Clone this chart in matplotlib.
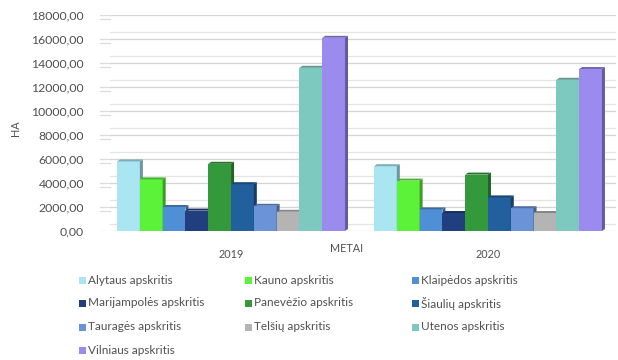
import matplotlib
matplotlib.use("Agg")
import matplotlib.pyplot as plt
from matplotlib.patches import Polygon, Rectangle
from matplotlib import transforms
import numpy as np

years = ["2019", "2020"]
regions = ["Alytaus apskritis", "Kauno apskritis", "Klaipėdos apskritis",
           "Marijampolės apskritis", "Panevėžio apskritis", "Šiaulių apskritis",
           "Tauragės apskritis", "Telšių apskritis", "Utenos apskritis",
           "Vilniaus apskritis"]
values_2019 = [5800, 4300, 2000, 1700, 5600, 3900, 2100, 1600, 13600, 16100]
values_2020 = [5400, 4200, 1800, 1500, 4700, 2800, 1900, 1500, 12600, 13500]
colors = ["#a9e6f2", "#5df23a", "#4f8fd6", "#213f7e", "#33993a",
          "#215f9d", "#6a93d8", "#b4b4b4", "#7dc9bf", "#9c8bef"]
yticks = list(range(0, 18001, 2000))

W, H = 618, 360
plt.rcParams["font.family"] = ["Lato", "DejaVu Sans"]
TXT = "#505050"

fig = plt.figure(figsize=(W / 100, H / 100), dpi=100)
fig.patch.set_facecolor("white")

def fx(px):
    return px / W

def fy(py):
    return 1 - py / H

ax = fig.add_axes([fx(100), fy(231), fx(518), (231 - 15) / H])
ax.set_xlim(-0.51, 1.506)
ax.set_ylim(0, 18000)
for s in ax.spines.values():
    s.set_visible(False)

# back-wall gridlines with a small side-wall slant on the left
wall_x = 10 / 518
bt = transforms.blended_transform_factory(ax.transAxes, ax.transData)
up = transforms.ScaledTranslation(0, 7 / 100, fig.dpi_scale_trans)
down = transforms.ScaledTranslation(0, -4 / 100, fig.dpi_scale_trans)
for v in yticks:
    ax.plot([wall_x, 0.995], [v, v], transform=bt, color="#d4d4d4", lw=0.9, zorder=0)
    ax.plot([wall_x, 0.995], [v, v], transform=bt + up, color="#e4e4e4", lw=0.9, zorder=0)
    ax.plot([0, wall_x], [v, v], transform=bt, color="#dcdcdc", lw=0.9, zorder=0)
    ax.plot([0, wall_x], [v, v], transform=bt + down, color="#dcdcdc", lw=0.9, zorder=0)

# clustered bars with a shallow 3D edge
n = len(regions)
w = 0.0887
dx, dy = 3 / 257, 2 / 12 * 1000
series = [values_2019, values_2020]
z = 2
for g, vals in enumerate(series):
    for i in range(n):
        x0 = g - n * w / 2 + i * w
        v = vals[i]
        c = np.array(matplotlib.colors.to_rgb(colors[i]))
        ax.bar(x0, v, width=w, align="edge", color=colors[i], zorder=z, linewidth=0)
        side = Polygon([(x0 + w, 0), (x0 + w + dx, dy), (x0 + w + dx, v + dy), (x0 + w, v)],
                       closed=True, facecolor=c * 0.65, edgecolor="none", zorder=z)
        top = Polygon([(x0, v), (x0 + dx, v + dy), (x0 + w + dx, v + dy), (x0 + w, v)],
                      closed=True, facecolor=c * 0.75, edgecolor="none", zorder=z)
        ax.add_patch(side)
        ax.add_patch(top)
        z += 1

ax.set_yticks(yticks)
ax.set_yticklabels([f"{t},00" for t in yticks], fontsize=8.8, color=TXT)
ax.tick_params(axis="y", length=0, pad=11.5)
ax.set_xticks([0, 1])
ax.set_xticklabels(years, fontsize=7.8, color=TXT)
ax.tick_params(axis="x", length=0, pad=13)

fig.text(fx(15), fy(128), "HA", rotation=90, ha="center", va="center", fontsize=7.8, color=TXT)
fig.text(fx(347), fy(248), "METAI", ha="center", va="center", fontsize=7.8, color=TXT)

# legend laid out row by row in three columns
col_x = [82, 248, 415]
row_y = [280, 303, 327, 350]
for i, name in enumerate(regions):
    cx = col_x[i % 3]
    cy = row_y[i // 3]
    fig.patches.append(Rectangle((fx(cx - 3.5), fy(cy + 3.5)), fx(7), 7 / H,
                                 transform=fig.transFigure, facecolor=colors[i],
                                 edgecolor="none"))
    fig.text(fx(cx + 6), fy(cy), name, ha="left", va="center", fontsize=8.5, color=TXT)

fig.savefig("out.png", dpi=100, facecolor="white")
